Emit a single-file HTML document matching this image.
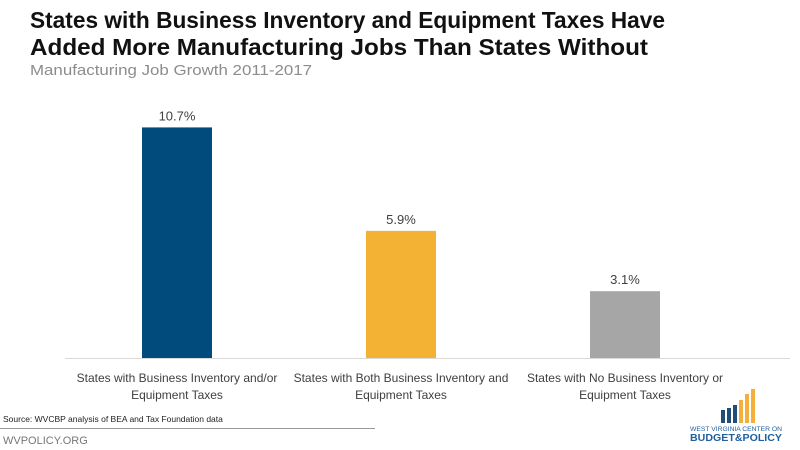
<!DOCTYPE html>
<html><head><meta charset="utf-8"><style>
html,body{margin:0;padding:0;background:#fff;}
svg{display:block;font-family:"Liberation Sans",sans-serif;}
</style></head><body>
<svg id="chart" width="800" height="450" viewBox="0 0 800 450">
<text x="30" y="28" font-size="23" font-weight="bold" fill="#111" textLength="635" lengthAdjust="spacingAndGlyphs">States with Business Inventory and Equipment Taxes Have</text>
<text x="30" y="55" font-size="23" font-weight="bold" fill="#111" textLength="618" lengthAdjust="spacingAndGlyphs">Added More Manufacturing Jobs Than States Without</text>
<text x="30" y="75" font-size="15" fill="#8c8c8c" textLength="282" lengthAdjust="spacingAndGlyphs">Manufacturing Job Growth 2011-2017</text>
<line x1="65" y1="358.5" x2="790" y2="358.5" stroke="#d9d9d9" stroke-width="1"/>
<g id="bars"></g>
<text x="3" y="422" font-size="8.5" fill="#222">Source: WVCBP analysis of BEA and Tax Foundation data</text>
<line x1="0" y1="428.5" x2="375" y2="428.5" stroke="#999" stroke-width="1"/>
<text x="3" y="444" font-size="11" fill="#777">WVPOLICY.ORG</text>
<g>
<rect x="721" y="410" width="4" height="13" fill="#1f4e79"/>
<rect x="727" y="408" width="4" height="15" fill="#1f4e79"/>
<rect x="733" y="405" width="4" height="18" fill="#1f4e79"/>
<rect x="739" y="400" width="4" height="23" fill="#f4b03a"/>
<rect x="745" y="394" width="4" height="29" fill="#f4b03a"/>
<rect x="751" y="389" width="4" height="34" fill="#f4b03a"/>
<text x="690" y="431" font-size="6.5" fill="#1f5fa0" textLength="92" lengthAdjust="spacingAndGlyphs">WEST VIRGINIA CENTER ON</text>
<text x="690" y="441" font-size="10" font-weight="bold" fill="#1f5fa0" textLength="92" lengthAdjust="spacingAndGlyphs">BUDGET&amp;POLICY</text>
</g>
</svg>
<script>
const categoriesLine1 = ["States with Business Inventory and/or","States with Both Business Inventory and","States with No Business Inventory or"];
const categoriesLine2 = ["Equipment Taxes","Equipment Taxes","Equipment Taxes"];
const values = [10.7, 5.9, 3.1];
const valueLabels = ["10.7%","5.9%","3.1%"];
const colors = ["#004b7c","#f4b234","#a6a6a6"];

const NS="http://www.w3.org/2000/svg";
const g=document.getElementById('bars');
const baseY=358, pxPerUnit=21.55, left=65, bandW=224, barW=70;
function xBand(i){return left+bandW*i+bandW/2;}
function yScale(v){return baseY - v*pxPerUnit;}
function mk(tag,attrs){const e=document.createElementNS(NS,tag);for(const k in attrs)e.setAttribute(k,attrs[k]);return e;}
values.forEach((v,i)=>{
  const cx=xBand(i), y=yScale(v);
  const r=mk('rect',{x:cx-barW/2,y:y,width:barW,height:baseY-y,fill:colors[i]});
  
  
  g.appendChild(r);
  const t=mk('text',{x:cx,y:y-7,'text-anchor':'middle','font-size':'13',fill:'#404040'});
  t.textContent=valueLabels[i];
  
  
  g.appendChild(t);
  const l1=mk('text',{x:cx,y:382,'text-anchor':'middle','font-size':'12',fill:'#404040'});
  l1.textContent=categoriesLine1[i];
  
  
  g.appendChild(l1);
  const l2=mk('text',{x:cx,y:399,'text-anchor':'middle','font-size':'12',fill:'#404040'});
  l2.textContent=categoriesLine2[i];
  
  
  g.appendChild(l2);
});
</script>
</body></html>
